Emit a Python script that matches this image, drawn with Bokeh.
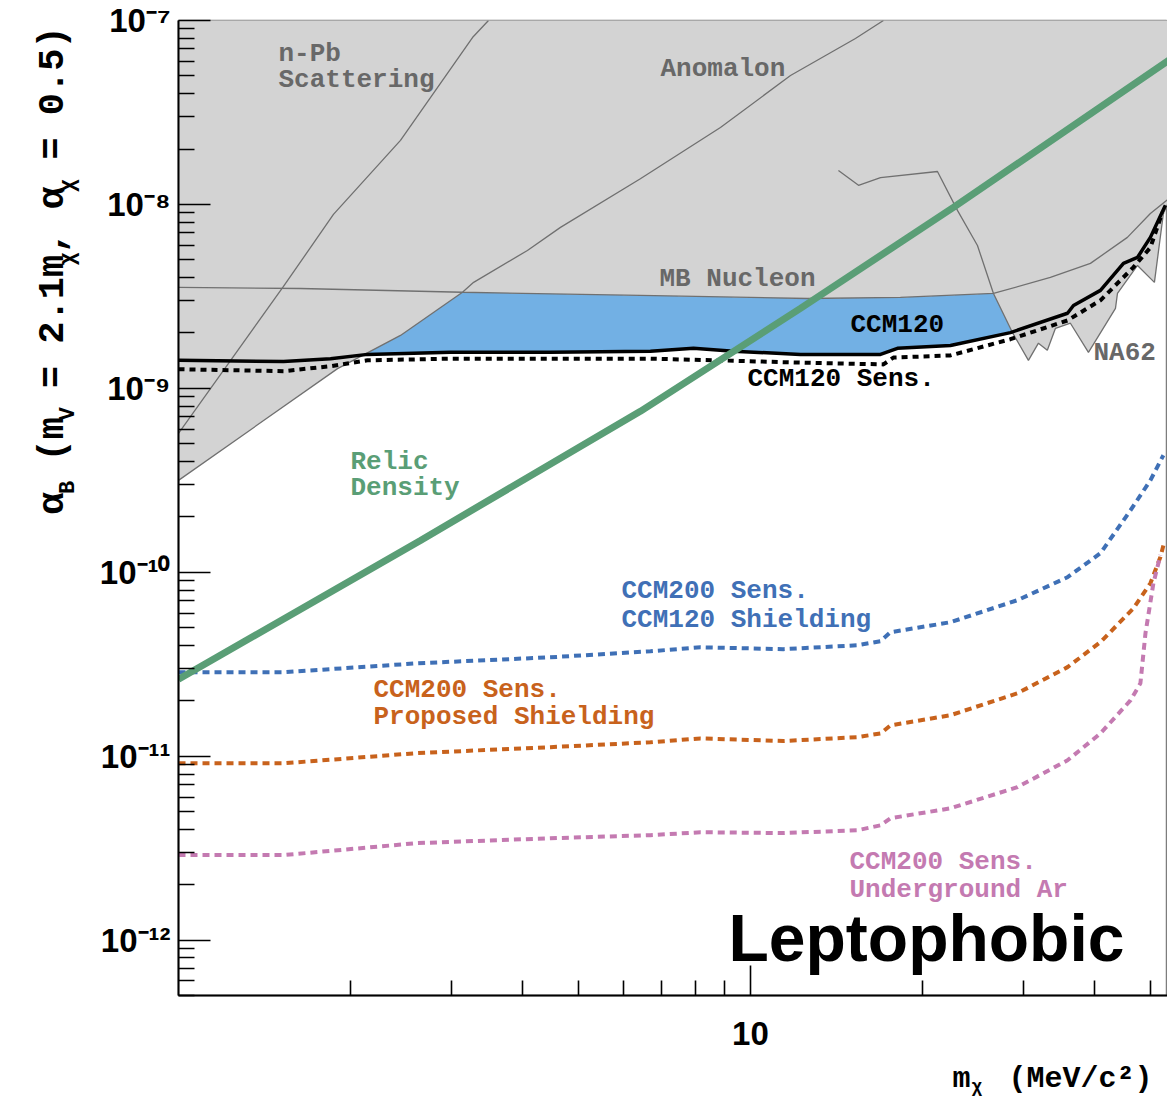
import numpy as np
from bokeh.plotting import figure
from bokeh.layouts import row, column
from bokeh.models import FixedTicker, CustomJSTickFormatter, Label, Range1d
from bokeh.embed import file_html
from bokeh.resources import INLINE

# ---------------- data (m_chi in MeV, alpha_B) ----------------
npb_x = [1.000, 1.526, 1.866, 2.444, 3.266, 3.483]
npb_y = [5.69e-10, 3.58e-9, 8.83e-9, 2.23e-8, 8.08e-8, 1.00e-7]

anom_x = [1.000, 1.897, 2.444, 3.137, 3.281, 4.074, 4.654, 6.42, 8.862, 11.75, 15.26, 17.08]
anom_y = [3.16e-10, 1.28e-9, 1.94e-9, 3.33e-9, 3.77e-9, 5.62e-9, 7.50e-9, 1.38e-8, 2.62e-8,
          5.02e-8, 7.98e-8, 1.0e-7]

mb_x = [1.000, 1.634, 3.137, 6.42, 12.58, 18.29, 26.60, 33.45, 39.30, 45.61, 50.03, 54.0]
mb_y = [3.54e-9, 3.49e-9, 3.33e-9, 3.20e-9, 3.08e-9, 3.12e-9, 3.28e-9, 4.01e-9, 4.78e-9,
        6.62e-9, 8.93e-9, 1.08e-8]

na62_x = [14.25, 15.45, 16.88, 21.23, 23.01, 24.94, 26.60, 28.71, 30.62, 31.88, 33.04, 34.14,
          36.26, 38.99, 43.47, 43.82, 47.50, 50.85, 52.72, 54.0]
na62_y = [1.53e-8, 1.27e-8, 1.40e-8, 1.51e-8, 9.28e-9, 5.98e-9, 3.28e-9, 2.01e-9, 1.42e-9,
          1.76e-9, 1.61e-9, 2.12e-9, 2.26e-9, 1.57e-9, 2.72e-9, 3.28e-9, 4.66e-9, 3.77e-9,
          8.93e-9, 1.05e-8]

ccm120_x = [1.000, 1.526, 1.844, 2.140, 2.989, 4.470, 6.686, 7.950, 9.339, 12.23, 16.88, 18.07,
            22.37, 28.48, 35.84, 36.71, 40.92, 44.89, 47.50, 50.03, 53.15]
ccm120_y = [1.42e-9, 1.40e-9, 1.45e-9, 1.53e-9, 1.57e-9, 1.57e-9, 1.59e-9, 1.65e-9, 1.59e-9,
            1.53e-9, 1.53e-9, 1.65e-9, 1.71e-9, 2.01e-9, 2.56e-9, 2.82e-9, 3.41e-9, 4.78e-9,
            5.15e-9, 6.62e-9, 9.89e-9]

ccm120s_x = [1.000, 1.526, 1.844, 2.140, 2.989, 6.686, 8.757, 12.23, 17.08, 17.78, 22.37, 28.48,
             35.84, 40.92, 46.72, 50.03, 52.51]
ccm120s_y = [1.27e-9, 1.24e-9, 1.32e-9, 1.42e-9, 1.45e-9, 1.45e-9, 1.42e-9, 1.38e-9, 1.35e-9,
             1.47e-9, 1.51e-9, 1.85e-9, 2.34e-9, 3.01e-9, 4.55e-9, 5.83e-9, 9.06e-9]

relic_x = [1.0, 2.649, 6.42, 12.23, 22.64, 54.0]
relic_y = [2.62e-11, 1.49e-10, 7.50e-10, 2.72e-9, 9.64e-9, 6.1e-8]

shield_x = [1.0, 1.526, 2.617, 4.470, 6.686, 8.178, 11.42, 15.39, 16.88, 17.57, 22.37, 29.30,
            35.84, 40.92, 46.17, 50.03, 52.72]
shield_y = [2.86e-11, 2.86e-11, 3.20e-11, 3.45e-11, 3.72e-11, 3.91e-11, 3.82e-11, 4.01e-11,
            4.22e-11, 4.72e-11, 5.35e-11, 7.05e-11, 9.40e-11, 1.27e-10, 2.17e-10, 3.16e-10,
            4.33e-10]

prop_x = [1.0, 1.526, 2.617, 4.470, 6.686, 8.178, 11.42, 15.39, 16.88, 17.57, 22.37, 29.30,
          35.84, 40.92, 46.72, 50.03, 52.09, 52.72]
prop_y = [9.15e-12, 9.15e-12, 1.04e-11, 1.12e-11, 1.19e-11, 1.25e-11, 1.21e-11, 1.27e-11,
          1.33e-11, 1.47e-11, 1.67e-11, 2.20e-11, 3.05e-11, 4.17e-11, 6.37e-11, 8.71e-11,
          1.21e-10, 1.40e-10]

uar_x = [1.0, 1.526, 2.617, 4.470, 6.686, 8.178, 11.42, 15.39, 16.88, 17.57, 22.37, 29.30,
         35.84, 40.92, 46.17, 48.06, 49.05, 50.64, 52.09]
uar_y = [2.90e-12, 2.90e-12, 3.37e-12, 3.58e-12, 3.72e-12, 3.86e-12, 3.82e-12, 3.96e-12,
         4.21e-12, 4.60e-12, 5.21e-12, 6.79e-12, 9.50e-12, 1.33e-11, 2.01e-11, 2.49e-11,
         4.66e-11, 8.71e-11, 1.24e-10]

y_major = [1e-12, 1e-11, 1e-10, 1e-9, 1e-8, 1e-7]
y_minor = [m * 10.0 ** e for e in range(-13, -7) for m in range(2, 10)]
x_major = [10]
x_minor = [2, 3, 4, 5, 6, 7, 8, 9, 20, 30, 40, 50]

X0, X1 = 1.0, 53.6
Y0, Y1 = 5e-13, 1e-7

# ---------------- layout geometry ----------------
W, H = 1167, 1098
LW = 80            # left strip holding the y-axis title
BH = 38            # bottom strip holding the x-axis title
MW, MH = W - LW, H - BH
FL, FT = 178, 20   # frame left / top on the page
FW, FH = W - FL, 975

p = figure(width=MW, height=MH, x_axis_type="log", y_axis_type="log",
           x_range=Range1d(X0, X1), y_range=Range1d(Y0, Y1),
           output_backend="svg", toolbar_location=None,
           min_border_left=FL - LW, min_border_right=0, min_border_top=FT,
           min_border_bottom=MH - FT - FH)
p.xgrid.visible = False
p.ygrid.visible = False
p.outline_line_color = "#7d7d7d"
p.outline_line_width = 1.5
p.background_fill_color = "white"
p.border_fill_color = "white"


def at(px, py):
    """page pixel position -> data coords of the main plot (text placement only)"""
    lx = np.log10(X0) + (px - FL) / FW * np.log10(X1 / X0)
    ly = np.log10(Y1) - (py - FT) / FH * np.log10(Y1 / Y0)
    return 10 ** lx, 10 ** ly


# excluded region = area above the lowest of the existing limits
gx = np.logspace(0, np.log10(X1), 2000)
lgx = np.log10(gx)


def interp(xs, ys):
    return np.interp(lgx, np.log10(xs), np.log10(ys), left=np.nan, right=np.nan)


stack = np.vstack([interp(npb_x, npb_y), interp(anom_x, anom_y),
                   interp(mb_x, mb_y), interp(na62_x, na62_y)])
env = np.nanmin(stack, axis=0)
ccm = np.interp(lgx, np.log10(ccm120_x), np.log10(ccm120_y))

p.varea(x=gx, y1=10 ** env, y2=np.full_like(gx, 2e-7), fill_color="#d3d3d3")
p.varea(x=gx, y1=10 ** ccm, y2=10 ** np.maximum(env, ccm), fill_color="#72b0e4")

gray_line = "#707070"
for xs, ys in [(npb_x, npb_y), (anom_x, anom_y), (mb_x, mb_y), (na62_x, na62_y)]:
    p.line(xs, ys, line_color=gray_line, line_width=1.3)

p.line(shield_x, shield_y, line_color="#3f70b6", line_width=4, line_dash="7 5")
p.line(prop_x, prop_y, line_color="#c8621c", line_width=4, line_dash="7 5")
p.line(uar_x, uar_y, line_color="#c47ab1", line_width=4, line_dash="7 5")
p.line(ccm120s_x, ccm120s_y, line_color="black", line_width=4, line_dash="6 5")
p.line(ccm120_x, ccm120_y, line_color="black", line_width=3.5)
p.line(relic_x, relic_y, line_color="#5a9e76", line_width=7)

# ---------------- axes ----------------
sup_js = r"""
const e = Math.round(Math.log10(tick));
const m = {"-":"\u207b","0":"\u2070","1":"\u00b9","2":"\u00b2","3":"\u00b3","4":"\u2074",
           "5":"\u2075","6":"\u2076","7":"\u2077","8":"\u2078","9":"\u2079"};
return "10" + String(e).split("").map(c => m[c]).join("");
"""
ya = p.yaxis[0]
ya.ticker = FixedTicker(ticks=y_major, minor_ticks=y_minor)
ya.formatter = CustomJSTickFormatter(code=sup_js)
xa = p.xaxis[0]
xa.ticker = FixedTicker(ticks=x_major, minor_ticks=x_minor)
xa.formatter = CustomJSTickFormatter(code="return tick.toFixed(0);")

for ax, maj, mnr, stand in [(ya, 32, 16, 8), (xa, 30, 15, 26)]:
    ax.major_tick_in = maj
    ax.major_tick_out = 0
    ax.minor_tick_in = mnr
    ax.minor_tick_out = 0
    ax.axis_line_width = 2
    ax.axis_line_color = "black"
    ax.major_tick_line_width = 1.6
    ax.minor_tick_line_width = 1.6
    ax.major_tick_line_color = "black"
    ax.minor_tick_line_color = "black"
    ax.major_label_text_font = "Liberation Sans"
    ax.major_label_text_font_style = "bold"
    ax.major_label_text_font_size = "33px"
    ax.major_label_text_color = "black"
    ax.major_label_standoff = stand

# ---------------- in-plot text ----------------
MONO = "Liberation Mono"


def lab(fig, x, y, text, color, size=26, font=MONO, angle=0.0):
    fig.add_layout(Label(x=x, y=y, text=text, text_font=font, text_font_style="bold",
                         text_font_size=f"{size}px", text_color=color,
                         text_baseline="middle", text_align="left", angle=angle))


def plab(px, py, text, color, size=26, font=MONO):
    x, y = at(px, py)
    lab(p, x, y, text, color, size, font)


grey_txt = "#686868"
plab(278, 53, "n-Pb", grey_txt)
plab(278, 79, "Scattering", grey_txt)
plab(660, 68, "Anomalon", grey_txt)
plab(659, 278, "MB Nucleon", grey_txt)
plab(1093, 352, "NA62", grey_txt)
plab(850, 324, "CCM120", "black")
plab(747, 378, "CCM120 Sens.", "black")
plab(350, 461, "Relic", "#5a9e76")
plab(350, 487, "Density", "#5a9e76")
plab(621, 590, "CCM200 Sens.", "#4070b6")
plab(621, 619, "CCM120 Shielding", "#4070b6")
plab(373, 689, "CCM200 Sens.", "#c8621c")
plab(373, 716, "Proposed Shielding", "#c8621c")
plab(849, 861, "CCM200 Sens.", "#c47ab1")
plab(849, 889, "Underground Ar", "#c47ab1")
plab(728, 937, "Leptophobic", "black", size=66, font="Liberation Sans")

# ---------------- y-axis title strip (pixel coordinates, y downwards) ----------------
ly = figure(width=LW, height=MH, x_range=Range1d(0, LW), y_range=Range1d(MH, 0),
            output_backend="svg", toolbar_location=None,
            x_axis_location=None, y_axis_location=None,
            min_border=0, min_border_left=0, min_border_right=0,
            min_border_top=0, min_border_bottom=0)
ly.grid.visible = False
ly.outline_line_color = None
ly.background_fill_color = "white"
ly.border_fill_color = "white"

big, small = 37, 22
pieces = [("α", False), ("B", True), (" (m", False), ("V", True), (" = 2.1m", False),
          ("χ", True), (", α", False), ("χ", True), (" = 0.5)", False)]
pos = 537.0
for txt, sub in pieces:
    sz = small if sub else big
    adv = 0.6 * sz
    lead = len(txt) - len(txt.lstrip(" "))
    pos -= lead * adv
    core = txt.strip(" ")
    lab(ly, 68 if sub else 52, pos, core, "black", size=sz, angle=np.pi / 2)
    pos -= len(core) * adv

# ---------------- x-axis title strip (pixel coordinates inside the strip) ----------------
bx = figure(width=W, height=BH, x_range=Range1d(0, W), y_range=Range1d(BH, 0),
            output_backend="svg", toolbar_location=None,
            x_axis_location=None, y_axis_location=None,
            min_border=0, min_border_left=0, min_border_right=0,
            min_border_top=0, min_border_bottom=0)
bx.grid.visible = False
bx.outline_line_color = None
bx.background_fill_color = "white"
bx.border_fill_color = "white"

lab(bx, 952, 18, "m", "black", size=30)
lab(bx, 971, 26, "χ", "black", size=18)
lab(bx, 1008, 18, "(MeV/c²)", "black", size=30)

layout = column(row(ly, p, spacing=0), bx, spacing=0)
open("out.html", "w").write(file_html(layout, INLINE))
